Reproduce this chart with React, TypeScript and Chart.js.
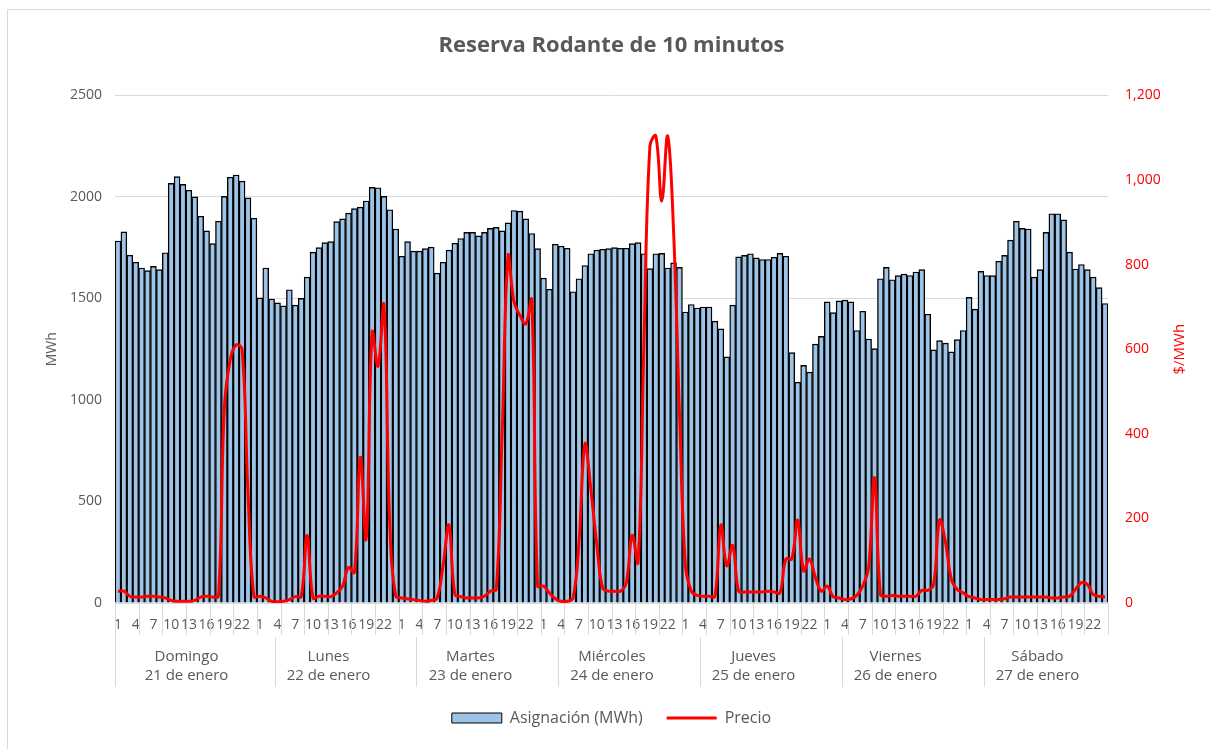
import React, { useEffect, useRef } from 'react';
import { Chart, registerables } from 'chart.js';

Chart.register(...registerables);

const FONT = '"Open Sans", Lato, sans-serif';
const GRAY = '#595959';
const GRID = '#d9d9d9';

const DAYS = ['Domingo', 'Lunes', 'Martes', 'Miércoles', 'Jueves', 'Viernes', 'Sábado'];
const DATES = ['21 de enero', '22 de enero', '23 de enero', '24 de enero', '25 de enero', '26 de enero', '27 de enero'];
const HOURS = ['1', '2', '3', '4', '5', '6', '7', '8', '9', '10', '11', '12', '13', '14', '15', '16', '17', '18', '19', '20', '21', '22', '23', '24'];

// Asignación (MWh) por hora
const ASIG_DOM = [1783, 1828, 1713, 1678, 1650, 1637, 1658, 1642, 1725, 2067, 2100, 2062, 2033, 2000, 1905, 1833, 1770, 1880, 2003, 2097, 2108, 2078, 1995, 1895];
const ASIG_LUN = [1503, 1650, 1497, 1478, 1463, 1543, 1467, 1500, 1605, 1728, 1750, 1775, 1780, 1878, 1892, 1920, 1942, 1950, 1980, 2047, 2045, 2003, 1937, 1842];
const ASIG_MAR = [1708, 1780, 1733, 1733, 1745, 1753, 1625, 1678, 1738, 1772, 1795, 1825, 1825, 1808, 1825, 1845, 1850, 1833, 1872, 1933, 1930, 1892, 1820, 1745];
const ASIG_MIE = [1600, 1545, 1767, 1758, 1747, 1533, 1597, 1662, 1720, 1738, 1742, 1745, 1750, 1747, 1747, 1770, 1775, 1720, 1647, 1720, 1722, 1650, 1675, 1653];
const ASIG_JUE = [1433, 1470, 1453, 1458, 1458, 1388, 1350, 1212, 1467, 1705, 1712, 1720, 1700, 1692, 1692, 1703, 1722, 1708, 1233, 1087, 1170, 1137, 1275, 1313];
const ASIG_VIE = [1483, 1430, 1488, 1492, 1483, 1342, 1437, 1300, 1253, 1597, 1653, 1592, 1612, 1620, 1613, 1630, 1642, 1422, 1247, 1292, 1280, 1237, 1297, 1342];
const ASIG_SAB = [1505, 1447, 1633, 1613, 1612, 1683, 1712, 1787, 1880, 1845, 1842, 1605, 1642, 1825, 1917, 1917, 1887, 1728, 1645, 1667, 1642, 1605, 1553, 1475];

// Precio ($/MWh) por hora
const PRECIO_DOM = [28, 28, 16, 14, 14, 16, 16, 14, 12, 6, 4, 4, 4, 6, 14, 16, 14, 16, 460, 575, 610, 600, 260, 15];
const PRECIO_LUN = [16, 12, 4, 3, 4, 8, 15, 15, 160, 12, 16, 16, 15, 24, 40, 84, 72, 344, 152, 640, 560, 704, 180, 16];
const PRECIO_MAR = [12, 10, 8, 6, 4, 6, 12, 88, 184, 20, 15, 12, 12, 12, 16, 28, 32, 400, 820, 712, 680, 660, 716, 40];
const PRECIO_MIE = [40, 24, 10, 4, 4, 12, 144, 376, 270, 140, 35, 28, 28, 28, 48, 160, 96, 620, 1080, 1104, 950, 1104, 880, 450];
const PRECIO_JUE = [90, 28, 18, 16, 16, 16, 184, 88, 136, 28, 26, 26, 26, 26, 28, 26, 24, 104, 104, 196, 76, 104, 60, 28];
const PRECIO_VIE = [40, 15, 12, 8, 10, 18, 40, 85, 296, 20, 16, 18, 16, 16, 16, 16, 30, 30, 44, 196, 144, 56, 32, 24];
const PRECIO_SAB = [15, 12, 8, 8, 8, 8, 10, 14, 14, 14, 14, 14, 14, 14, 12, 12, 14, 16, 32, 48, 44, 20, 16, 14];

const ASIGNACION = [...ASIG_DOM, ...ASIG_LUN, ...ASIG_MAR, ...ASIG_MIE, ...ASIG_JUE, ...ASIG_VIE, ...ASIG_SAB];
const PRECIO = [...PRECIO_DOM, ...PRECIO_LUN, ...PRECIO_MAR, ...PRECIO_MIE, ...PRECIO_JUE, ...PRECIO_VIE, ...PRECIO_SAB];
const LABELS = DAYS.flatMap(() => HOURS);

const groupAxisPlugin = {
  id: 'groupAxis',
  afterDraw(chart: any) {
    const x = chart.scales.x;
    const ctx = chart.ctx;
    const { bottom, top } = chart.chartArea;
    const n = LABELS.length;
    const p0 = x.getPixelForValue(0);
    const step = x.getPixelForValue(1) - p0;
    const boundary = (b: number) => Math.round(p0 - step / 2 + b * step) + 0.5;
    ctx.save();
    ctx.strokeStyle = GRID;
    ctx.lineWidth = 1;
    ctx.beginPath();
    for (let b = 0; b <= n; b += 4) {
      ctx.moveTo(boundary(b), bottom);
      ctx.lineTo(boundary(b), bottom + 32);
    }
    ctx.moveTo(boundary(0), bottom);
    ctx.lineTo(boundary(0), bottom + 84);
    for (let k = 1; k < DAYS.length; k++) {
      const bx = boundary(k * 24 + 3);
      ctx.moveTo(bx, bottom + 34);
      ctx.lineTo(bx, bottom + 84);
    }
    ctx.stroke();

    ctx.fillStyle = GRAY;
    ctx.font = `15px ${FONT}`;
    ctx.textAlign = 'center';
    ctx.textBaseline = 'middle';
    for (let k = 0; k < DAYS.length; k++) {
      const cx = (boundary(k * 24) + boundary(k * 24 + 24)) / 2;
      ctx.fillText(DAYS[k], cx, bottom + 54);
      ctx.fillText(DATES[k], cx, bottom + 73);
    }

    ctx.translate(1172, (top + bottom) / 2);
    ctx.rotate(-Math.PI / 2);
    ctx.fillStyle = '#FF0000';
    ctx.font = `15px ${FONT}`;
    ctx.fillText('$/MWh', 0, 0);
    ctx.restore();
  },
};

export default function App() {
  const canvasRef = useRef<HTMLCanvasElement | null>(null);

  useEffect(() => {
    if (!canvasRef.current) return;
    Chart.defaults.font.family = FONT;
    const chart = new Chart(canvasRef.current, {
      type: 'bar',
      data: {
        labels: LABELS,
        datasets: [
          {
            type: 'bar',
            label: 'Asignación (MWh)',
            data: ASIGNACION,
            backgroundColor: '#9DC3E6',
            borderColor: '#000000',
            borderWidth: 1.4,
            barPercentage: 1,
            categoryPercentage: 1,
            yAxisID: 'y',
            order: 1,
          },
          {
            type: 'line',
            label: 'Precio',
            data: PRECIO,
            borderColor: '#FF0000',
            backgroundColor: '#FF0000',
            borderWidth: 3,
            pointRadius: 0,
            tension: 0.4,
            yAxisID: 'y1',
            order: 0,
          },
        ],
      },
      options: {
        responsive: false,
        animation: false,
        devicePixelRatio: 1,
        layout: { padding: { left: 0, right: 0, top: 0, bottom: 13 } },
        plugins: {
          title: {
            display: true,
            fullSize: false,
            text: 'Reserva Rodante de 10 minutos',
            color: GRAY,
            font: { family: FONT, size: 22, weight: 'bold' },
            padding: { top: 23, bottom: 36 },
          },
          legend: {
            position: 'bottom',
            fullSize: false,
            labels: {
              usePointStyle: true,
              pointStyleWidth: 50,
              boxHeight: 10,
              color: GRAY,
              font: { family: FONT, size: 16 },
              padding: 24,
              sort: (a: any, b: any) => a.datasetIndex - b.datasetIndex,
              generateLabels: (chart: any) => {
                const items = Chart.defaults.plugins.legend.labels.generateLabels(chart);
                return items.map((it: any) => ({
                  ...it,
                  pointStyle: it.datasetIndex === 0 ? 'rect' : 'line',
                  strokeStyle: it.datasetIndex === 0 ? '#000000' : '#FF0000',
                  lineWidth: it.datasetIndex === 0 ? 1 : 3,
                }));
              },
            },
          },
          tooltip: { enabled: false },
        },
        scales: {
          x: {
            grid: { display: false, drawTicks: false },
            border: { display: true, color: GRID },
            ticks: {
              autoSkip: false,
              maxRotation: 0,
              minRotation: 0,
              padding: 14,
              color: GRAY,
              font: { family: FONT, size: 14 },
              callback: (_v: any, i: number) => (i % 3 === 0 ? LABELS[i] : ''),
            },
            afterFit: (s: any) => {
              s.height = 83;
            },
          },
          y: {
            position: 'left',
            min: 0,
            max: 2500,
            ticks: {
              stepSize: 500,
              color: GRAY,
              font: { family: FONT, size: 14 },
              padding: 13,
              callback: (v: any) => String(v),
            },
            grid: { color: GRID, drawTicks: false },
            border: { display: false },
            title: {
              display: true,
              text: 'MWh',
              color: GRAY,
              font: { family: FONT, size: 14 },
              padding: { top: 36, bottom: 0 },
            },
            afterFit: (s: any) => {
              s.width = 107;
            },
          },
          y1: {
            position: 'right',
            min: 0,
            max: 1200,
            ticks: {
              stepSize: 200,
              color: '#FF0000',
              font: { family: FONT, size: 14 },
              padding: 17,
              callback: (v: any) => Number(v).toLocaleString('en-US'),
            },
            grid: { display: false, drawTicks: false },
            border: { display: false },
            afterFit: (s: any) => {
              s.width = 103;
            },
          },
        },
      },
      plugins: [groupAxisPlugin],
    } as any);
    return () => chart.destroy();
  }, []);

  return (
    <div
      style={{
        position: 'fixed',
        left: 7,
        top: 9,
        width: 1204,
        height: 740,
        borderTop: '1px solid #d9d9d9',
        borderLeft: '1px solid #d9d9d9',
        boxSizing: 'border-box',
        background: '#fff',
      }}
    >
      <canvas ref={canvasRef} width={1203} height={739} style={{ display: 'block' }} />
    </div>
  );
}
